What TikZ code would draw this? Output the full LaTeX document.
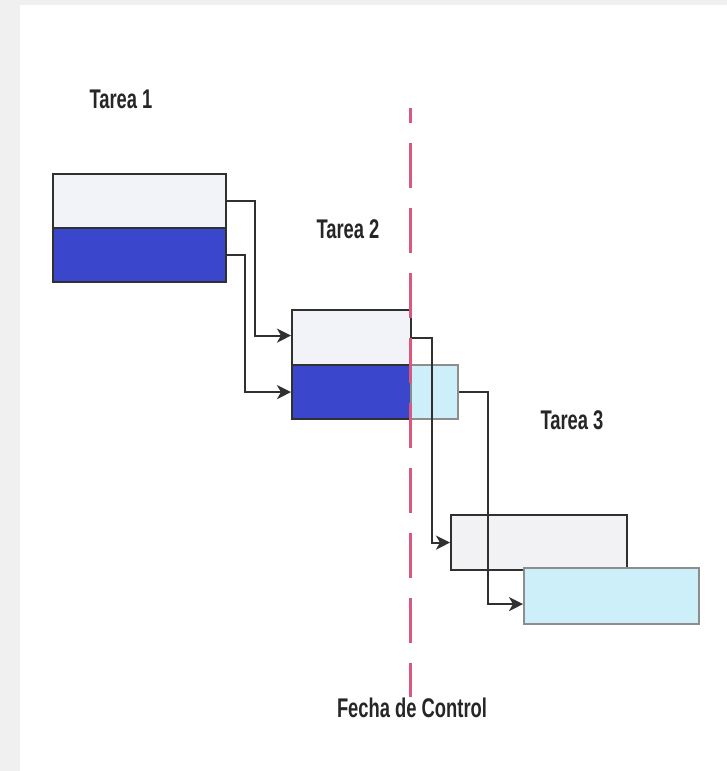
\documentclass[tikz,border=0pt]{standalone}
\usepackage{fontspec}
\usetikzlibrary{arrows.meta,calc}
\newfontfamily\labelfont[FakeStretch=0.68]{Liberation Sans Bold}
\definecolor{framegray}{HTML}{F0F0F0}
\definecolor{lightbar}{HTML}{F2F2F9}
\definecolor{bluebar}{HTML}{3A47CC}
\definecolor{cyanbar}{HTML}{CDEFF9}
\definecolor{greybar}{HTML}{F2F2F5}
\definecolor{outline}{HTML}{303030}
\definecolor{ctrlred}{HTML}{D9587E}
\tikzset{
  barbox/.style={draw=outline, line width=2.2pt, rectangle, inner sep=0pt, anchor=north west},
  conn/.style={draw=outline, line width=2.2pt, -{Stealth[length=14pt,width=14pt,inset=4pt]}},
  tasklabel/.style={font=\labelfont\fontsize{27}{29}\selectfont, text=black!85, inner sep=0pt},
  ctrlline/.style={draw=ctrlred, line width=3pt, dash pattern=on 45pt off 20pt, dash phase=30pt}
}
\begin{document}
\begin{tikzpicture}[x=1pt,y=-1pt]
\useasboundingbox (0,0) rectangle (727,771);
\fill[framegray] (0,0) rectangle (727,771);
\fill[white] (20,5) rectangle (727,771);
% labels
\node[tasklabel] (l1) at (121,99) {Tarea 1};
\node[tasklabel] (l2) at (348,229) {Tarea 2};
\node[tasklabel] (l3) at (572,420) {Tarea 3};
\node[tasklabel] (lc) at (412,708) {Fecha de Control};
% task 1
\node[barbox, fill=lightbar, minimum width=173pt, minimum height=54pt] (t1a) at (52,173) {};
\node[barbox, fill=bluebar, minimum width=173pt, minimum height=54pt] (t1b) at (52,227) {};
% task 2
\node[barbox, fill=lightbar, minimum width=119pt, minimum height=55pt] (t2a) at (291,309) {};
\node[barbox, fill=bluebar, minimum width=119pt, minimum height=54pt] (t2b) at (291,364) {};
\node[barbox, draw=outline!55, fill=cyanbar, minimum width=47pt, minimum height=54pt] (t2c) at (410,364) {};
% task 3
\node[barbox, fill=greybar, minimum width=176pt, minimum height=55pt] (t3a) at (450,514) {};
\node[barbox, draw=outline!55, fill=cyanbar, minimum width=175pt, minimum height=56pt] (t3b) at (523,567) {};
% connectors
\draw[conn] (t1a.east) -- ++(28,0) |- ([yshift=2pt]t2a.west);
\draw[conn] (t1b.east) -- ++(18,0) |- (t2b.west);
\draw[conn] (t2a.east) -- ++(20,0) |- (t3a.west);
\draw[conn] (t2c.east) -- ++(29,0) |- ([yshift=-8pt]t3b.west);
% control date line
\coordinate (ctop) at (410,108);
\coordinate (cbot) at (410,697);
\draw[ctrlline] (ctop) -- (cbot);
\end{tikzpicture}
\end{document}
